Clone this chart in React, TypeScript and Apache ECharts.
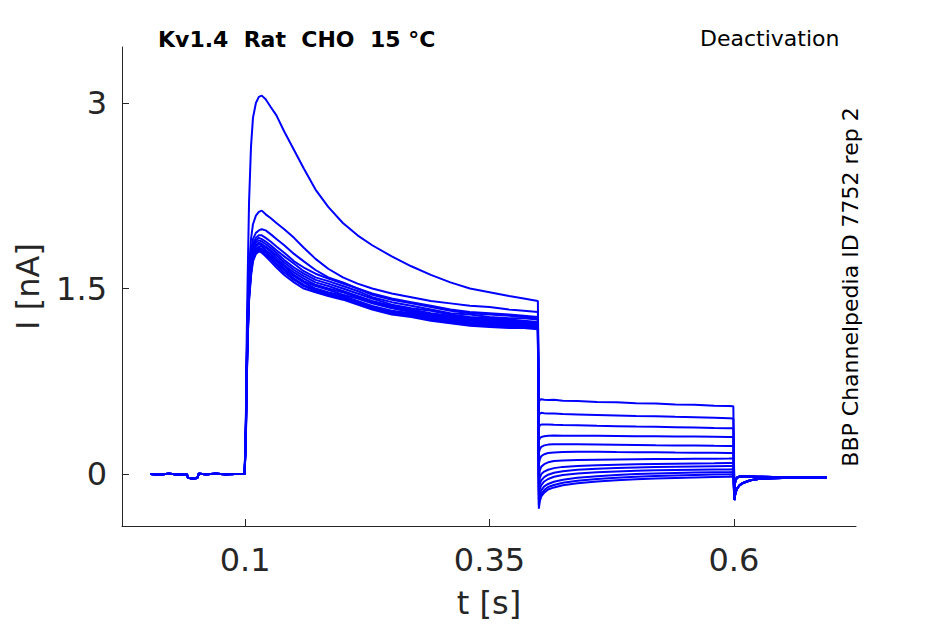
import React, { useEffect, useRef } from "react";
import * as echarts from "echarts";

// ---- time grids (s) ----
const baseT = [0.003, 0.012, 0.022, 0.032, 0.0405, 0.0415, 0.046, 0.051, 0.0525, 0.06, 0.07, 0.08, 0.09, 0.0995];
const baseV = [0.0, -0.004, 0.002, -0.003, -0.004, -0.03, -0.036, -0.032, 0.002, -0.002, 0.003, -0.002, 0.001, 0.0];

const actT = [0.1, 0.1008, 0.1016, 0.1026, 0.104, 0.106, 0.108, 0.111, 0.114, 0.117, 0.121, 0.126, 0.132, 0.14, 0.15, 0.16, 0.172, 0.185, 0.2, 0.215, 0.23, 0.25, 0.27, 0.29, 0.31, 0.33, 0.35, 0.37, 0.385, 0.3995];
const tailT = [0.4005, 0.4015, 0.403, 0.406, 0.41, 0.416, 0.425, 0.44, 0.46, 0.48, 0.5, 0.52, 0.54, 0.56, 0.58, 0.595, 0.5995];
const postT = [0.6005, 0.6015, 0.603, 0.606, 0.61, 0.617, 0.625, 0.64, 0.66, 0.68, 0.695];

// ---- activation phase currents (nA) ----
const actA = [0, 0.5, 1.1, 1.6, 2.2, 2.65, 2.88, 3.0, 3.05, 3.06, 3.03, 2.97, 2.9, 2.77, 2.62, 2.47, 2.3, 2.16, 2.03, 1.93, 1.85, 1.76, 1.68, 1.61, 1.55, 1.5, 1.47, 1.44, 1.42, 1.4];
const actB = [0, 0.45, 0.95, 1.35, 1.68, 1.9, 2.02, 2.09, 2.12, 2.13, 2.1, 2.07, 2.03, 1.98, 1.91, 1.83, 1.74, 1.66, 1.59, 1.54, 1.5, 1.46, 1.43, 1.4, 1.38, 1.36, 1.35, 1.33, 1.32, 1.31];
const actC = [0, 0.42, 0.9, 1.28, 1.6, 1.8, 1.9, 1.95, 1.97, 1.98, 1.97, 1.94, 1.9, 1.85, 1.78, 1.72, 1.65, 1.59, 1.55, 1.5, 1.46, 1.42, 1.39, 1.36, 1.33, 1.31, 1.3, 1.29, 1.28, 1.27];
const actD = [0, 0.4, 0.88, 1.25, 1.57, 1.76, 1.86, 1.91, 1.93, 1.93, 1.91, 1.88, 1.84, 1.79, 1.72, 1.67, 1.62, 1.58, 1.54, 1.5, 1.45, 1.41, 1.38, 1.35, 1.32, 1.3, 1.29, 1.28, 1.27, 1.26];
const actE = [0, 0.38, 0.85, 1.22, 1.55, 1.74, 1.84, 1.89, 1.91, 1.9, 1.88, 1.85, 1.81, 1.76, 1.7, 1.64, 1.59, 1.56, 1.52, 1.48, 1.43, 1.39, 1.36, 1.33, 1.3, 1.29, 1.27, 1.26, 1.26, 1.25];
const actF = [0, 0.4, 0.86, 1.2, 1.52, 1.72, 1.82, 1.87, 1.89, 1.88, 1.86, 1.83, 1.79, 1.73, 1.67, 1.62, 1.57, 1.54, 1.5, 1.46, 1.42, 1.37, 1.34, 1.32, 1.29, 1.27, 1.26, 1.25, 1.24, 1.23];
const actG = [0, 0.37, 0.82, 1.18, 1.5, 1.7, 1.8, 1.85, 1.87, 1.86, 1.84, 1.81, 1.77, 1.71, 1.65, 1.6, 1.55, 1.52, 1.48, 1.44, 1.4, 1.36, 1.33, 1.3, 1.28, 1.26, 1.25, 1.24, 1.23, 1.22];
const actH = [0, 0.36, 0.8, 1.16, 1.48, 1.68, 1.79, 1.84, 1.86, 1.85, 1.83, 1.8, 1.75, 1.69, 1.63, 1.58, 1.53, 1.5, 1.47, 1.43, 1.39, 1.35, 1.32, 1.29, 1.27, 1.25, 1.24, 1.23, 1.22, 1.21];
const actI = [0, 0.35, 0.79, 1.15, 1.46, 1.66, 1.77, 1.82, 1.84, 1.84, 1.81, 1.78, 1.73, 1.68, 1.61, 1.56, 1.52, 1.49, 1.45, 1.42, 1.38, 1.34, 1.31, 1.28, 1.26, 1.24, 1.23, 1.22, 1.21, 1.2];
const actJ = [0, 0.34, 0.78, 1.13, 1.45, 1.65, 1.76, 1.81, 1.83, 1.82, 1.8, 1.76, 1.72, 1.66, 1.6, 1.55, 1.5, 1.47, 1.44, 1.4, 1.36, 1.32, 1.3, 1.27, 1.25, 1.23, 1.22, 1.21, 1.2, 1.2];
const actK = [0, 0.33, 0.76, 1.11, 1.43, 1.63, 1.75, 1.8, 1.82, 1.81, 1.79, 1.75, 1.7, 1.65, 1.58, 1.53, 1.49, 1.46, 1.43, 1.39, 1.35, 1.31, 1.29, 1.26, 1.24, 1.22, 1.21, 1.2, 1.19, 1.19];
const actL = [0, 0.32, 0.75, 1.1, 1.42, 1.62, 1.74, 1.79, 1.81, 1.8, 1.77, 1.74, 1.69, 1.63, 1.57, 1.52, 1.48, 1.45, 1.42, 1.38, 1.34, 1.3, 1.28, 1.25, 1.23, 1.21, 1.2, 1.19, 1.18, 1.18];
const actM = [0, 0.3, 0.73, 1.08, 1.4, 1.6, 1.72, 1.78, 1.8, 1.79, 1.76, 1.72, 1.67, 1.61, 1.55, 1.5, 1.47, 1.44, 1.41, 1.37, 1.33, 1.29, 1.27, 1.24, 1.22, 1.2, 1.19, 1.18, 1.18, 1.17];

// ---- deactivation (tail) phase currents (nA) ----
const tail1 = [0.58, 0.6, 0.605, 0.6, 0.598, 0.6, 0.592, 0.59, 0.583, 0.58, 0.572, 0.57, 0.562, 0.56, 0.553, 0.55, 0.548];
const tail2 = [0.47, 0.49, 0.495, 0.492, 0.49, 0.489, 0.485, 0.482, 0.478, 0.474, 0.47, 0.467, 0.463, 0.46, 0.456, 0.452, 0.45];
const tail3 = [0.37, 0.395, 0.4, 0.4, 0.4, 0.398, 0.396, 0.394, 0.39, 0.387, 0.384, 0.382, 0.379, 0.376, 0.373, 0.371, 0.37];
const tail4 = [0.27, 0.29, 0.3, 0.305, 0.31, 0.312, 0.31, 0.31, 0.31, 0.308, 0.306, 0.305, 0.304, 0.303, 0.302, 0.3, 0.3];
const tail5 = [0.17, 0.2, 0.22, 0.232, 0.238, 0.24, 0.24, 0.24, 0.238, 0.236, 0.234, 0.232, 0.231, 0.23, 0.228, 0.227, 0.226];
const tail6 = [0.08, 0.12, 0.145, 0.16, 0.17, 0.175, 0.178, 0.18, 0.18, 0.178, 0.177, 0.176, 0.174, 0.173, 0.172, 0.171, 0.17];
const tail7 = [-0.02, 0.03, 0.06, 0.08, 0.095, 0.105, 0.11, 0.113, 0.116, 0.118, 0.12, 0.121, 0.122, 0.123, 0.124, 0.125, 0.126];
const tail8 = [-0.08, -0.03, 0.0, 0.02, 0.035, 0.048, 0.058, 0.066, 0.072, 0.076, 0.079, 0.082, 0.084, 0.086, 0.088, 0.09, 0.09];
const tail9 = [-0.13, -0.08, -0.05, -0.025, -0.005, 0.01, 0.022, 0.034, 0.043, 0.049, 0.054, 0.057, 0.06, 0.062, 0.064, 0.065, 0.065];
const tail10 = [-0.17, -0.12, -0.09, -0.06, -0.04, -0.022, -0.008, 0.005, 0.015, 0.021, 0.026, 0.03, 0.032, 0.034, 0.036, 0.037, 0.038];
const tail11 = [-0.21, -0.16, -0.13, -0.1, -0.08, -0.062, -0.046, -0.03, -0.018, -0.008, 0.0, 0.005, 0.009, 0.012, 0.014, 0.015, 0.016];
const tail12 = [-0.25, -0.19, -0.16, -0.13, -0.105, -0.088, -0.07, -0.054, -0.04, -0.03, -0.022, -0.016, -0.011, -0.007, -0.004, -0.003, -0.002];
const tail13 = [-0.28, -0.22, -0.18, -0.15, -0.125, -0.108, -0.09, -0.074, -0.06, -0.05, -0.042, -0.036, -0.031, -0.027, -0.023, -0.021, -0.02];

// ---- after the step back (nA) ----
const postUpper = [-0.12, -0.06, -0.03, -0.02, -0.02, -0.02, -0.022, -0.024, -0.025, -0.025, -0.025];
const postLower = [-0.21, -0.16, -0.12, -0.09, -0.07, -0.05, -0.04, -0.033, -0.03, -0.028, -0.027];

const xTicks = [0.1, 0.35, 0.6];
const yTicks = [0, 1.5, 3];

const traces = [
  { act: actA, tail: tail1, post: postUpper },
  { act: actB, tail: tail2, post: postUpper },
  { act: actC, tail: tail3, post: postUpper },
  { act: actD, tail: tail4, post: postUpper },
  { act: actE, tail: tail5, post: postUpper },
  { act: actF, tail: tail6, post: postUpper },
  { act: actG, tail: tail7, post: postLower },
  { act: actH, tail: tail8, post: postLower },
  { act: actI, tail: tail9, post: postLower },
  { act: actJ, tail: tail10, post: postLower },
  { act: actK, tail: tail11, post: postLower },
  { act: actL, tail: tail12, post: postLower },
  { act: actM, tail: tail13, post: postLower },
];

function buildData(act: number[], tail: number[], post: number[]) {
  const d: number[][] = [];
  baseT.forEach((t, k) => d.push([t, baseV[k]]));
  actT.forEach((t, k) => d.push([t, act[k]]));
  tailT.forEach((t, k) => d.push([t, tail[k]]));
  postT.forEach((t, k) => d.push([t, post[k]]));
  return d;
}

const FONT = "DejaVu Sans";
const AX = "#262626";

export default function App() {
  const ref = useRef<HTMLDivElement>(null);
  useEffect(() => {
    if (!ref.current) return;
    const chart = echarts.init(ref.current, null, { renderer: "svg" });
    chart.setOption({
      animation: false,
      backgroundColor: "#ffffff",
      grid: { left: 122, right: 89, top: 47, bottom: 98, containLabel: false, outerBoundsMode: "none" },
      xAxis: {
        type: "value",
        min: -0.026,
        max: 0.725,
        splitLine: { show: false },
        axisLine: { show: true, onZero: false, lineStyle: { color: AX, width: 1 } },
        axisTick: { show: true, inside: true, length: 7, customValues: xTicks, lineStyle: { color: AX } },
        axisLabel: { customValues: xTicks, fontSize: 32, color: AX, fontFamily: FONT, margin: 18 },
        name: "t [s]",
        nameLocation: "middle",
        nameGap: 61,
        nameTextStyle: { fontSize: 32, color: AX, fontFamily: FONT },
      },
      yAxis: {
        type: "value",
        min: -0.42,
        max: 3.453,
        splitLine: { show: false },
        axisLine: { show: true, onZero: false, lineStyle: { color: AX, width: 1 } },
        axisTick: { show: true, inside: true, length: 7, customValues: yTicks, lineStyle: { color: AX } },
        axisLabel: { customValues: yTicks, fontSize: 32, color: AX, fontFamily: FONT, margin: 15 },
        name: "I [nA]",
        nameLocation: "middle",
        nameGap: 78,
        nameTextStyle: { fontSize: 32, color: AX, fontFamily: FONT },
      },
      series: traces.map((tr, i) => ({
        type: "line",
        name: "sweep " + (i + 1),
        data: buildData(tr.act, tr.tail, tr.post),
        showSymbol: false,
        symbol: "none",
        lineStyle: { color: "#0000ff", width: 2 },
        itemStyle: { color: "#0000ff" },
        z: 2,
      })),
      graphic: [
        {
          type: "text",
          left: 158,
          top: 28,
          style: { text: "Kv1.4  Rat  CHO  15 °C", font: "bold 22px 'DejaVu Sans'", fill: "#000" },
        },
        {
          type: "text",
          left: 700,
          top: 27,
          style: { text: "Deactivation", font: "22px 'DejaVu Sans'", fill: "#000" },
        },
        {
          type: "text",
          x: 850,
          y: 287,
          rotation: Math.PI / 2,
          style: {
            text: "BBP Channelpedia ID 7752 rep 2",
            font: "22px 'DejaVu Sans'",
            fill: "#000",
            align: "center",
            verticalAlign: "middle",
          },
        },
      ],
    });
    return () => chart.dispose();
  }, []);
  return (
    <div
      ref={ref}
      style={{ position: "fixed", left: 0, top: 0, width: 945, height: 624, background: "#fff" }}
    />
  );
}
